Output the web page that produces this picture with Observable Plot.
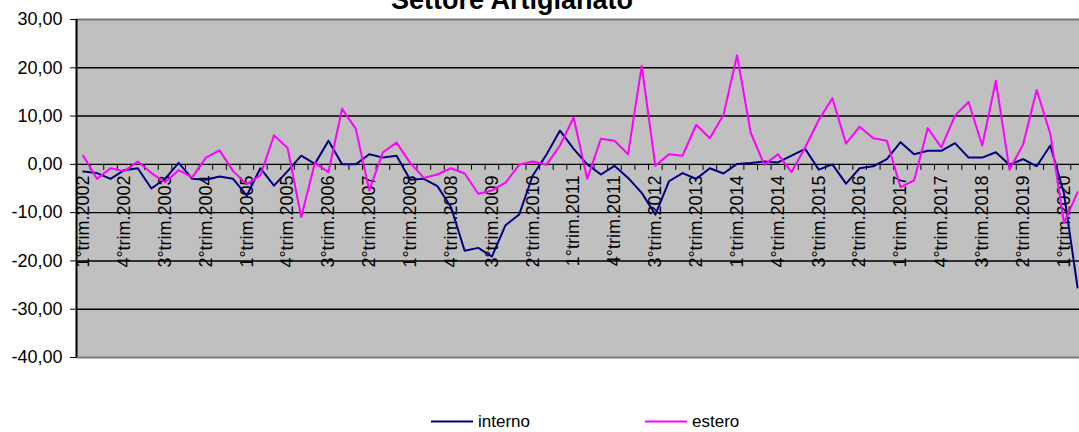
<!DOCTYPE html>
<html>
<head>
<meta charset="utf-8">
<script src="https://cdn.jsdelivr.net/npm/d3@7"></script>
<script src="https://cdn.jsdelivr.net/npm/@observablehq/plot@0.6"></script>
<style>
html, body { margin: 0; padding: 0; background: #fff; overflow: hidden; }
#wrap { position: relative; width: 1079px; height: 432px; overflow: hidden; }
</style>
</head>
<body>
<div id="wrap"></div>
<script>
const quarters = [
  "1°trim.2002","2°trim.2002","3°trim.2002","4°trim.2002",
  "1°trim.2003","2°trim.2003","3°trim.2003","4°trim.2003",
  "1°trim.2004","2°trim.2004","3°trim.2004","4°trim.2004",
  "1°trim.2005","2°trim.2005","3°trim.2005","4°trim.2005",
  "1°trim.2006","2°trim.2006","3°trim.2006","4°trim.2006",
  "1°trim.2007","2°trim.2007","3°trim.2007","4°trim.2007",
  "1°trim.2008","2°trim.2008","3°trim.2008","4°trim.2008",
  "1°trim.2009","2°trim.2009","3°trim.2009","4°trim.2009",
  "1°trim.2010","2°trim.2010","3°trim.2010","4°trim.2010",
  "1°trim.2011","2°trim.2011","3°trim.2011","4°trim.2011",
  "1°trim.2012","2°trim.2012","3°trim.2012","4°trim.2012",
  "1°trim.2013","2°trim.2013","3°trim.2013","4°trim.2013",
  "1°trim.2014","2°trim.2014","3°trim.2014","4°trim.2014",
  "1°trim.2015","2°trim.2015","3°trim.2015","4°trim.2015",
  "1°trim.2016","2°trim.2016","3°trim.2016","4°trim.2016",
  "1°trim.2017","2°trim.2017","3°trim.2017","4°trim.2017",
  "1°trim.2018","2°trim.2018","3°trim.2018","4°trim.2018",
  "1°trim.2019","2°trim.2019","3°trim.2019","4°trim.2019",
  "1°trim.2020","2°trim.2020"
];

const interno = [
  -1.5, -1.8, -3.0, -1.2, -0.8, -5.0, -3.0, 0.3, -3.0, -3.2,
  -2.5, -3.0, -6.5, -0.8, -4.4, -1.4, 1.8, 0.1, 4.9, 0.0,
  0.0, 2.1, 1.4, 1.8, -3.2, -3.0, -4.5, -8.9, -17.9, -17.3,
  -19.1, -12.6, -10.4, -2.3, 2.0, 7.0, 3.2, 0.0, -2.1, -0.3,
  -2.8, -5.9, -10.4, -3.5, -1.8, -3.0, -0.8, -1.9, 0.1, 0.3,
  0.6, 0.4, 1.8, 3.2, -1.1, 0.0, -4.0, -0.8, -0.4, 1.1,
  4.6, 2.1, 2.8, 2.8, 4.4, 1.4, 1.4, 2.5, -0.1, 1.1,
  -0.4, 3.9, -6.0, -25.5
];

const estero = [
  1.8, -3.0, -0.8, -1.4, 0.6, -1.8, -3.7, -1.2, -2.7, 1.4,
  2.9, -1.4, -4.1, -2.3, 6.0, 3.4, -10.9, 0.3, -1.6, 11.5,
  7.4, -5.4, 2.5, 4.5, 0.3, -2.8, -2.1, -0.8, -1.9, -6.1,
  -5.4, -3.8, -0.1, 0.6, -0.1, 3.9, 9.7, -3.0, 5.3, 4.9,
  2.1, 20.4, -0.3, 2.1, 1.8, 8.2, 5.4, 10.2, 22.6, 6.6,
  -0.1, 2.1, -1.6, 3.5, 9.2, 13.7, 4.3, 7.8, 5.4, 4.9,
  -4.7, -3.3, 7.5, 3.5, 10.1, 12.9, 3.9, 17.3, -1.1, 4.1,
  15.4, 6.3, -12.1, -5.8
];

const yTicks = [30, 20, 10, 0, -10, -20, -30, -40];
const seriesNames = ["interno", "estero"];
const seriesColors = ["#000080", "#FF00FF"];
const titleText = "Settore Artigianato";

const FONT = "'Liberation Sans', Arial, sans-serif";
const n = quarters.length;
const step = 13.62;
const idx = d3.range(n);
const labelIdx = idx.filter(i => i % 3 === 0);
const boundaries = d3.range(n + 1).map(i => i - 0.5);
const fmt = v => v.toFixed(2).replace(".", ",");

const svg = Plot.plot({
  width: 1079,
  height: 432,
  marginLeft: 76,
  marginRight: 0,
  marginTop: 19,
  marginBottom: 75,
  style: { fontFamily: FONT, fontSize: "18px", overflow: "hidden", background: "white", color: "black" },
  x: { type: "linear", domain: [-0.5, n - 0.5], range: [76, 76 + n * step], axis: null },
  y: { domain: [-40, 30], range: [357, 19], axis: null },
  marks: [
    Plot.frame({ fill: "#C0C0C0", stroke: null }),
    Plot.ruleY(yTicks.filter(v => v > -40 && v < 30), { stroke: "black", strokeWidth: 1.4 }),
    Plot.ruleY([30, -40], { stroke: "#7a7a7a", strokeWidth: 2 }),
    Plot.ruleX(boundaries, { x: d => d, y1: 0, y2: -1.25, stroke: "black", strokeWidth: 1 }),
    Plot.axisY({ ticks: yTicks, tickSize: 6, tickPadding: 8, tickFormat: fmt, anchor: "left", label: null, fontSize: 18, stroke: "black" }),
    Plot.ruleX([-0.5], { stroke: "black", strokeWidth: 2 }),
    Plot.text(labelIdx, { x: i => i, y: 0, text: i => quarters[i], rotate: -90, textAnchor: "end", dy: 11, fontSize: 18, fill: "black" }),
    Plot.line(interno, { x: (d, i) => i, y: d => d, stroke: seriesColors[0], strokeWidth: 2 }),
    Plot.line(estero, { x: (d, i) => i, y: d => d, stroke: seriesColors[1], strokeWidth: 2 })
  ]
});

const s = d3.select(svg);
s.append("text")
  .attr("x", 512).attr("y", 9)
  .attr("text-anchor", "middle")
  .attr("font-family", FONT)
  .attr("font-weight", "bold")
  .attr("font-size", 27)
  .attr("fill", "black")
  .text(titleText);

const legendX = [431, 645];
seriesNames.forEach((name, k) => {
  const g = s.append("g");
  g.append("line")
    .attr("x1", legendX[k]).attr("x2", legendX[k] + 42)
    .attr("y1", 421.5).attr("y2", 421.5)
    .attr("stroke", seriesColors[k]).attr("stroke-width", 2);
  g.append("text")
    .attr("x", legendX[k] + 47).attr("y", 427)
    .attr("text-anchor", "start")
    .attr("font-family", FONT).attr("font-size", 17)
    .attr("fill", "black")
    .text(name);
});

document.getElementById("wrap").appendChild(svg);
</script>
</body>
</html>
